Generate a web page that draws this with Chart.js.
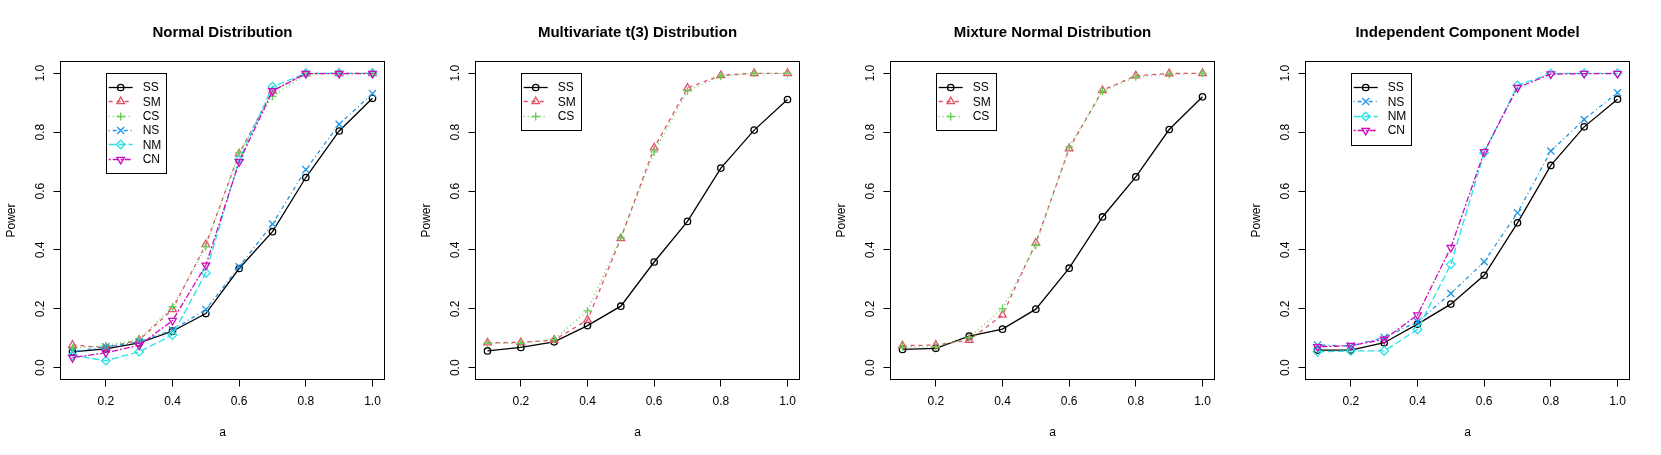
<!DOCTYPE html>
<html>
<head>
<meta charset="utf-8">
<script src="https://cdn.jsdelivr.net/npm/chart.js@4.4.0/dist/chart.umd.min.js"></script>
<style>
html,body{margin:0;padding:0;background:#fff;}
#wrap{position:relative;width:1661px;height:455px;overflow:hidden;background:#fff;}
canvas{position:absolute;top:0;}
</style>
</head>
<body>
<div id="wrap">
<canvas id="c0" width="415" height="455" style="left:0px"></canvas>
<canvas id="c1" width="415" height="455" style="left:415px"></canvas>
<canvas id="c2" width="415" height="455" style="left:830px"></canvas>
<canvas id="c3" width="416" height="455" style="left:1245px"></canvas>
</div>
<script>
// ---------- data ----------
const aValues = [0.1, 0.2, 0.3, 0.4, 0.5, 0.6, 0.7, 0.8, 0.9, 1.0];
const xTickValues = [0.2, 0.4, 0.6, 0.8, 1.0];
const yTickValues = [0.0, 0.2, 0.4, 0.6, 0.8, 1.0];
const panelTitles = ["Normal Distribution", "Multivariate t(3) Distribution", "Mixture Normal Distribution", "Independent Component Model"];
const xAxisLabel = "a";
const yAxisLabel = "Power";

// Normal Distribution
const normalSS = [0.054, 0.064, 0.084, 0.124, 0.184, 0.337, 0.462, 0.646, 0.804, 0.915];
const normalSM = [0.077, 0.068, 0.094, 0.198, 0.419, 0.727, 0.940, 0.999, 1.000, 1.000];
const normalCS = [0.066, 0.075, 0.097, 0.207, 0.411, 0.730, 0.922, 0.997, 1.000, 1.000];
const normalNS = [0.054, 0.071, 0.088, 0.128, 0.198, 0.343, 0.488, 0.673, 0.827, 0.931];
const normalNM = [0.042, 0.024, 0.054, 0.111, 0.322, 0.707, 0.954, 1.000, 1.000, 1.000];
const normalCN = [0.034, 0.051, 0.076, 0.160, 0.348, 0.699, 0.940, 0.999, 0.999, 0.999];

// Multivariate t(3) Distribution
const t3SS = [0.057, 0.069, 0.088, 0.143, 0.209, 0.359, 0.497, 0.678, 0.807, 0.911];
const t3SM = [0.085, 0.086, 0.094, 0.162, 0.439, 0.747, 0.950, 0.993, 1.000, 1.000];
const t3CS = [0.083, 0.083, 0.096, 0.193, 0.442, 0.733, 0.940, 0.990, 1.000, 1.000];

// Mixture Normal Distribution
const mixSS = [0.062, 0.066, 0.107, 0.131, 0.199, 0.338, 0.512, 0.648, 0.809, 0.920];
const mixSM = [0.075, 0.077, 0.094, 0.179, 0.424, 0.744, 0.942, 0.992, 0.999, 1.000];
const mixCS = [0.071, 0.071, 0.103, 0.201, 0.416, 0.750, 0.939, 0.988, 0.997, 1.000];

// Independent Component Model
const icmSS = [0.060, 0.060, 0.085, 0.148, 0.216, 0.314, 0.492, 0.687, 0.818, 0.912];
const icmNS = [0.077, 0.074, 0.103, 0.156, 0.252, 0.360, 0.526, 0.736, 0.843, 0.934];
const icmNM = [0.054, 0.057, 0.057, 0.130, 0.351, 0.730, 0.959, 0.999, 1.000, 1.000];
const icmCN = [0.071, 0.075, 0.096, 0.179, 0.408, 0.733, 0.951, 0.997, 0.999, 0.999];

// ---------- styles ----------
const FONT = '"Liberation Sans", Arial, Helvetica, sans-serif';
const LW = 1.3;
const methodStyle = {
  SS: {color:'#000000', dash:[],          pointStyle:'circle',   radius:3.2, rotation:0},
  SM: {color:'#DF536B', dash:[4,4],       pointStyle:'triangle', radius:4.4, rotation:0},
  CS: {color:'#61D04F', dash:[1,3],       pointStyle:'cross',    radius:4,   rotation:0},
  NS: {color:'#2297E6', dash:[1,3,4,3],   pointStyle:'crossRot', radius:5,   rotation:0},
  NM: {color:'#28E2E5', dash:[7,3],       pointStyle:'rectRot',  radius:4.3, rotation:0},
  CN: {color:'#CD0BBC', dash:[2,2,6,2],   pointStyle:'triangle', radius:4.4, rotation:180}
};

const panels = [
  {title: panelTitles[0], series: [["SS", normalSS], ["SM", normalSM], ["CS", normalCS], ["NS", normalNS], ["NM", normalNM], ["CN", normalCN]]},
  {title: panelTitles[1], series: [["SS", t3SS], ["SM", t3SM], ["CS", t3CS]]},
  {title: panelTitles[2], series: [["SS", mixSS], ["SM", mixSM], ["CS", mixCS]]},
  {title: panelTitles[3], series: [["SS", icmSS], ["NS", icmNS], ["NM", icmNM], ["CN", icmCN]]}
];

function makeDataset(name, values, idx, n) {
  const s = methodStyle[name];
  return {
    label: name,
    data: aValues.map((a, i) => ({x: a, y: values[i]})),
    borderColor: s.color,
    backgroundColor: 'rgba(0,0,0,0)',
    borderWidth: LW,
    borderDash: s.dash,
    pointStyle: s.pointStyle,
    pointRadius: s.radius,
    pointRotation: s.rotation,
    pointBorderColor: s.color,
    pointBackgroundColor: 'rgba(0,0,0,0)',
    pointBorderWidth: LW,
    tension: 0,
    fill: false,
    clip: false,
    order: n - idx
  };
}

function drawMarker(ctx, style, x, y) {
  if (Chart.helpers && Chart.helpers.drawPoint) {
    Chart.helpers.drawPoint(ctx, {pointStyle: style.pointStyle, rotation: style.rotation, radius: style.radius, borderWidth: LW}, x, y);
  }
}

const decorPlugin = {
  id: 'decor',
  afterDraw(chart, args, opts) {
    const ctx = chart.ctx;
    const ca = chart.chartArea;
    const cx = (ca.left + ca.right) / 2;
    const cy = (ca.top + ca.bottom) / 2;
    ctx.save();
    ctx.setLineDash([]);
    ctx.strokeStyle = '#000';
    ctx.lineWidth = 1;
    // box
    ctx.strokeRect(ca.left, ca.top, ca.right - ca.left, ca.bottom - ca.top);
    // title
    ctx.fillStyle = '#000';
    ctx.font = 'bold 15px ' + FONT;
    ctx.textAlign = 'center';
    ctx.textBaseline = 'alphabetic';
    ctx.fillText(opts.title, cx, 37);
    // x label
    ctx.font = '12px ' + FONT;
    ctx.fillText(xAxisLabel, cx, 436);
    // y label
    ctx.save();
    ctx.translate(15, cy);
    ctx.rotate(-Math.PI / 2);
    ctx.fillText(yAxisLabel, 0, 0);
    ctx.restore();
    // y tick labels (parallel to axis)
    const ys = chart.scales.y;
    yTickValues.forEach(v => {
      const py = ys.getPixelForValue(v);
      ctx.save();
      ctx.translate(43.5, py);
      ctx.rotate(-Math.PI / 2);
      ctx.fillText(v.toFixed(1), 0, 0);
      ctx.restore();
    });
    // legend
    const items = chart.data.datasets.map(d => d.label);
    const lx = ca.left + 45.2, ly = ca.top + 11.2, lw = 60, step = 14.33;
    const lh = step * (items.length + 1);
    ctx.strokeStyle = '#000';
    ctx.lineWidth = 1;
    ctx.strokeRect(Math.round(lx) + 0.5, Math.round(ly) + 0.5, lw, Math.round(lh));
    ctx.textAlign = 'left';
    items.forEach((name, i) => {
      const st = methodStyle[name];
      const yy = ly + step * (i + 1);
      const yl = Math.round(yy) + 0.5;
      ctx.save();
      ctx.strokeStyle = st.color;
      ctx.lineWidth = LW;
      ctx.setLineDash(st.dash);
      ctx.beginPath();
      ctx.moveTo(lx + 3, yl);
      ctx.lineTo(lx + 27, yl);
      ctx.stroke();
      ctx.setLineDash([]);
      ctx.strokeStyle = st.color;
      ctx.fillStyle = 'rgba(0,0,0,0)';
      drawMarker(ctx, st, lx + 15, yl);
      ctx.restore();
      ctx.fillStyle = '#000';
      ctx.font = '12px ' + FONT;
      ctx.fillText(name, lx + 37, yy + 4.4);
    });
    ctx.restore();
  }
};

panels.forEach((p, k) => {
  const n = p.series.length;
  const datasets = p.series.map((s, i) => makeDataset(s[0], s[1], i, n));
  new Chart(document.getElementById('c' + k), {
    type: 'line',
    data: {datasets},
    plugins: [decorPlugin],
    options: {
      responsive: false,
      animation: false,
      events: [],
      devicePixelRatio: 1,
      layout: {padding: {top: 61.5, right: (k === 3 ? 31.5 : 30.5), left: 0, bottom: 0}},
      plugins: {
        legend: {display: false},
        tooltip: {enabled: false},
        title: {display: false},
        decor: {title: p.title}
      },
      scales: {
        x: {
          type: 'linear',
          position: 'bottom',
          min: 0.064,
          max: 1.036,
          afterBuildTicks: s => { s.ticks = xTickValues.map(v => ({value: v})); },
          afterFit: s => { s.height = 75.5; },
          grid: {display: true, drawOnChartArea: false, drawTicks: true, tickLength: 7, color: '#000', lineWidth: 1},
          border: {display: false},
          ticks: {color: '#000', font: {family: FONT, size: 12}, padding: 8, maxRotation: 0, minRotation: 0, autoSkip: false,
                  callback: v => Number(v).toFixed(1)}
        },
        y: {
          type: 'linear',
          position: 'left',
          min: -0.04,
          max: 1.04,
          afterBuildTicks: s => { s.ticks = yTickValues.map(v => ({value: v})); },
          afterFit: s => { s.width = 60.5; },
          grid: {display: true, drawOnChartArea: false, drawTicks: true, tickLength: 7, color: '#000', lineWidth: 1},
          border: {display: false},
          ticks: {display: false}
        }
      }
    }
  });
});
</script>
</body>
</html>
